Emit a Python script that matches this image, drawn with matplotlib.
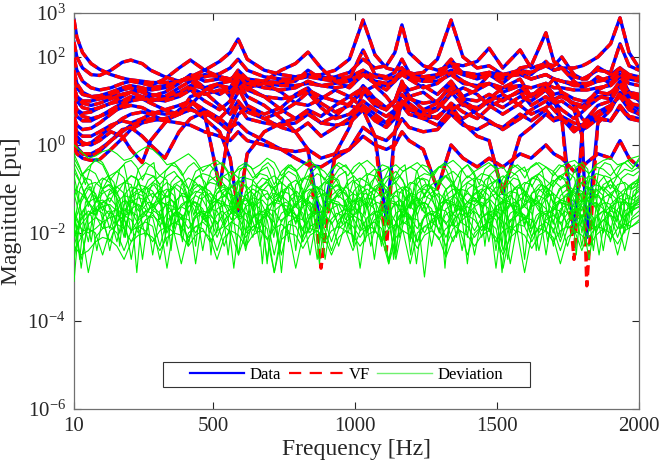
import numpy as np
import matplotlib
matplotlib.use('Agg')
import matplotlib.pyplot as plt
from matplotlib.lines import Line2D
from matplotlib.patches import Rectangle
from matplotlib.ticker import FixedLocator, LogFormatterMathtext, NullLocator

plt.rcParams['font.family'] = ['Liberation Serif', 'DejaVu Serif']
plt.rcParams['mathtext.fontset'] = 'custom'
plt.rcParams['mathtext.rm'] = 'Liberation Serif'
plt.rcParams['mathtext.it'] = 'Liberation Serif:italic'

# ---------------- data (log10 of magnitude) ----------------
freq = [10, 20, 40, 70, 100, 140, 180, 210, 250, 280,
        330, 380, 420, 470, 523, 560, 588, 620, 680, 740,
        790, 834, 880, 930, 980, 1028, 1070, 1110, 1140, 1165,
        1190, 1240, 1290, 1338, 1380, 1430, 1472, 1520, 1581, 1620,
        1672, 1700, 1728, 1771, 1800, 1816, 1855, 1900, 1933, 1965,
        2000]

c01 = [2.85, 2.45, 2.1, 1.85, 1.72, 1.6, 1.52, 1.48, 1.45, 1.42,
       1.42, 1.45, 1.5, 1.55, 1.62, 1.75, 1.95, 1.7, 1.55, 1.5,
       1.5, 1.58, 1.6, 1.7, 1.95, 2.84, 2.05, 1.75, 1.7, 1.75,
       1.6, 1.45, 1.45, 1.6, 1.4, 1.35, 1.4, 1.3, 1.35, 1.3,
       1.4, 1.3, 1.3, 1.25, 1.25, 1.25, 1.3, 1.35, 1.55, 1.4,
       1.35]
c02 = [2.34, 2.0, 1.75, 1.6, 1.58, 1.7, 1.88, 1.93, 1.85, 1.7,
       1.55, 1.45, 1.5, 1.6, 1.55, 1.5, 1.6, 1.45, 1.4, 1.45,
       1.5, 1.55, 1.5, 1.55, 1.65, 1.95, 1.75, 1.8, 2.1, 2.73,
       2.1, 1.8, 1.7, 1.8, 1.65, 1.6, 1.65, 1.55, 1.6, 1.5,
       1.6, 1.5, 1.45, 1.4, 1.4, 1.4, 1.45, 1.5, 1.7, 1.55,
       1.5]
c03 = [1.98, 1.7, 1.45, 1.3, 1.25, 1.3, 1.4, 1.45, 1.4, 1.35,
       1.5, 1.75, 1.93, 1.7, 1.55, 1.5, 1.55, 1.45, 1.4, 1.35,
       1.35, 1.4, 1.35, 1.4, 1.45, 1.65, 1.45, 1.4, 1.5, 1.7,
       1.6, 1.65, 1.95, 2.84, 2.0, 1.75, 1.8, 1.6, 1.65, 1.5,
       1.6, 1.5, 1.45, 1.35, 1.35, 1.35, 1.45, 1.55, 1.75, 1.6,
       1.55]
c04 = [1.52, 1.3, 1.15, 1.1, 1.12, 1.2, 1.3, 1.35, 1.3, 1.25,
       1.3, 1.45, 1.55, 1.7, 1.9, 2.1, 2.41, 1.95, 1.7, 1.6,
       1.55, 1.6, 1.55, 1.5, 1.55, 1.7, 1.55, 1.5, 1.55, 1.65,
       1.55, 1.5, 1.55, 1.7, 1.6, 1.55, 1.65, 1.6, 1.7, 1.65,
       1.8, 1.7, 1.75, 1.75, 1.8, 1.85, 2.0, 2.3, 2.89, 2.1,
       1.75]
c05 = [1.3, 1.1, 0.95, 0.9, 0.95, 1.05, 1.15, 1.2, 1.25, 1.3,
       1.35, 1.45, 1.55, 1.3, 1.15, 1.3, 1.6, 1.35, 1.45, 1.7,
       1.85, 2.11, 1.75, 1.45, 1.3, 1.6, 1.4, 1.25, 1.45, 1.75,
       1.5, 1.3, 1.4, 1.65, 1.45, 1.3, 1.6, 1.4, 1.75, 1.8,
       2.55, 1.9, 1.75, 1.45, 1.3, 1.35, 1.55, 1.4, 1.6, 1.5,
       1.45]
c06 = [0.98, 0.8, 0.72, 0.75, 0.85, 0.95, 1.1, 1.2, 1.25, 1.15,
       1.1, 1.2, 1.35, 1.3, 1.4, 1.45, 1.6, 1.4, 1.3, 1.25,
       1.3, 1.45, 1.35, 1.3, 1.35, 1.6, 1.4, 1.35, 1.45, 1.6,
       1.5, 1.45, 1.55, 1.85, 1.8, 1.9, 2.2, 1.75, 2.16, 1.75,
       1.85, 1.8, 2.0, 1.6, 1.5, 1.5, 1.77, 1.6, 1.75, 1.55,
       1.5]
c07 = [0.64, 0.45, 0.35, 0.38, 0.5, 0.7, 0.9, 1.0, 1.05, 0.95,
       0.8, 0.7, 0.9, 1.25, 1.4, 1.1, 1.3, 0.9, 0.7, 0.85,
       1.15, 1.3, 0.95, 0.75, 0.9, 1.35, 1.05, 0.85, 1.0, 1.45,
       1.1, 0.8, 0.95, 1.4, 1.0, 0.8, 1.05, 1.3, 1.5, 1.1,
       1.3, 1.5, 1.2, 0.9, 0.85, 0.95, 1.25, 1.4, 1.6, 1.2,
       1.0]
c08 = [0.41, 0.2, 0.05, 0.0, 0.1, 0.3, 0.2, -0.1, -0.4, 0.1,
       0.5, 0.8, 1.0, 0.8, 0.6, 0.85, 1.2, 1.3, 1.1, 0.8,
       0.6, 0.75, 0.5, 0.65, 0.95, 1.2, 1.35, 1.1, 0.85, 1.0,
       0.8, 0.65, 0.8, 1.15, 1.3, 1.15, 0.9, 0.7, 0.95, 1.15,
       1.25, 1.0, 0.8, 0.6, 0.75, 0.85, 1.05, 1.2, 1.35, 1.0,
       0.8]
c09 = [0.18, -0.05, -0.2, -0.25, -0.15, 0.1, 0.35, 0.4, 0.2, 0.0,
       -0.3, 0.3, 0.6, 0.75, 0.5, 0.3, 0.7, 0.85, 0.6, 0.4,
       0.3, 0.5, 0.2, 0.4, 0.6, 0.9, 0.7, 0.5, 0.75, 1.0,
       0.85, 0.6, 0.45, 0.8, 0.95, 0.7, 0.55, 0.35, 0.6, 0.8,
       1.0, 0.8, 0.6, 0.3, 0.45, 0.55, 0.75, 0.9, 1.1, 0.8,
       0.7]
c10 = [-0.05, -0.2, -0.3, -0.35, -0.33, -0.1, 0.15, 0.35, 0.5, 0.55,
       0.6, 0.7, 0.8, 0.7, 0.6, 0.4, 0.5, 0.3, 0.1, -0.1,
       -0.3, -0.45, -0.5, -0.3, -0.1, 0.4, 0.2, 0.1, 0.3, 0.6,
       0.4, 0.3, 0.35, 0.7, 0.45, 0.35, 0.5, 0.4, 0.7, 0.55,
       0.8, 0.6, 0.65, 0.5, 0.45, 0.45, 0.6, 0.55, 0.9, 0.65,
       0.6]
c11 = [1.7, 1.4, 1.2, 1.1, 1.05, 1.1, 1.15, 1.2, 1.1, 1.0,
       1.05, 1.15, 1.3, 1.15, 1.25, 1.2, 1.4, 1.1, 0.9, 0.6,
       0.3, -0.1, -1.9, -0.2, 0.4, 1.2, 0.9, 0.8, 1.0, 1.3,
       1.05, 0.95, 1.0, 1.3, 1.05, 1.0, 1.15, 1.0, 1.25, 1.1,
       1.35, 1.15, 1.2, 1.05, 1.0, 1.0, 1.2, 1.15, 1.45, 1.2,
       1.15]
c12 = [1.2, 1.0, 0.85, 0.8, 0.85, 0.95, 1.0, 1.1, 1.05, 1.0,
       1.1, 1.3, 1.45, 1.25, 1.35, 1.3, 1.5, 1.25, 1.1, 1.05,
       1.1, 1.25, 1.1, 1.0, 0.9, 0.8, 0.2, -1.7, 0.3, 1.0,
       0.8, 0.75, 0.85, 1.2, 0.9, 0.85, 1.0, 0.85, 1.1, 1.0,
       1.25, 1.05, 1.1, 0.95, 0.9, 0.95, 1.1, 1.05, 1.4, 1.15,
       1.1]
c13 = [0.85, 0.65, 0.55, 0.55, 0.65, 0.8, 0.95, 1.05, 1.1, 1.05,
       1.0, 1.1, 1.25, 1.0, 0.8, 1.0, 1.45, 1.3, 1.4, 1.2,
       0.95, 0.9, 1.05, 1.25, 1.1, 1.3, 0.95, 0.8, 1.0, 1.4,
       1.25, 1.35, 1.15, 1.45, 1.1, 1.25, 1.4, 1.2, 1.35, 1.1,
       1.4, 1.0, 0.6, -2.0, 0.3, 0.6, 0.9, 1.0, 1.35, 1.1,
       1.05]
c14 = [0.3, 0.1, 0.0, 0.05, 0.2, 0.4, 0.6, 0.7, 0.75, 0.7,
       0.55, 0.7, 1.1, 1.2, 0.9, 0.7, 1.0, 0.75, 0.6, 0.75,
       0.95, 1.2, 0.85, 0.6, 0.7, 1.0, 0.8, 0.65, 0.8, 1.15,
       0.95, 0.7, 0.6, 0.95, 0.75, 0.6, 0.85, 1.05, 1.2, 0.9,
       1.1, 0.95, 1.0, 0.8, 0.2, -2.1, 0.5, 0.8, 1.2, 0.95,
       0.9]
c15 = [0.5, 0.3, 0.2, 0.2, 0.3, 0.45, 0.55, 0.5, 0.6, 0.7,
       0.8, 0.9, 1.0, 0.7, -0.95, 0.5, 0.9, 0.6, 0.5, 0.45,
       0.5, 0.7, 0.5, 0.45, 0.5, 0.8, 0.6, 0.5, 0.65, 0.9,
       0.7, 0.6, 0.65, 0.9, 0.5, 0.2, 0.1, -1.1, 0.2, 0.4,
       0.7, 0.55, 0.6, 0.4, 0.35, 0.4, 0.6, 0.55, 0.85, 0.6,
       0.55]
c16 = [1.0, 0.8, 0.65, 0.6, 0.65, 0.75, 0.85, 0.9, 0.85, 0.75,
       0.7, 0.75, 0.85, 0.6, 0.3, -0.3, -1.5, -0.2, 0.3, 0.5,
       0.6, 0.8, 0.65, 0.9, 1.1, 0.85, 0.55, 0.4, 0.6, 0.9,
       1.1, 1.2, 0.95, 0.75, 0.6, 0.8, 1.0, 1.15, 0.9, 0.7,
       0.85, 1.0, 1.15, 0.9, 0.6, 0.5, 0.65, 0.85, 1.15, 0.9,
       0.7]
c17 = [0.1, -0.1, -0.2, -0.2, -0.1, 0.1, 0.3, 0.45, 0.55, 0.6,
       0.55, 0.5, 0.45, 0.3, 0.2, 0.1, 0.3, 0.1, 0.0, -0.1,
       -0.15, -0.1, -0.3, -0.2, -0.1, 0.2, 0.0, -0.1, 0.0, 0.3,
       0.1, -0.1, -1.0, 0.0, -0.3, -0.5, -0.3, -0.5, -0.2, -0.3,
       0.0, -0.2, -0.3, -0.6, -0.5, -0.4, -0.2, -0.3, 0.1, -0.3,
       -0.5]
c18 = [1.3, 1.1, 1.0, 1.0, 1.05, 1.15, 1.25, 1.3, 1.2, 1.1,
       1.2, 1.4, 1.6, 1.45, 1.5, 1.45, 1.7, 1.5, 1.45, 1.4,
       1.45, 1.7, 1.5, 1.45, 1.5, 2.16, 1.6, 1.55, 1.65, 1.95,
       1.65, 1.55, 1.6, 1.95, 1.6, 1.5, 1.6, 1.5, 1.7, 1.6,
       1.9, 1.7, 1.75, 1.55, 1.5, 1.55, 1.7, 1.65, 2.3, 1.8,
       1.7]

data_curves = [c01, c02, c03, c04, c05, c06, c07, c08, c09,
               c10, c11, c12, c13, c14, c15, c16, c17, c18]

# VF fit differs from data only at the deep anti-resonances
vf_dip_curve = [10, 11, 12, 13]
vf_dip_freq = [880, 1110, 1771, 1816]
vf_dip_value = [-2.8, -2.4, -2.6, -3.2]

# deviation curves (log10), sampled on even grids
dev_freq = np.linspace(10, 2000, 80)
dev_freq_fine = np.linspace(10, 2000, 100)
g01 = [0.0, -0.15, -0.3, -0.25, -0.15, -0.1, -0.2, -0.35, -0.3, -0.15,
       -0.05, -0.1, -0.25, -0.45, -0.4, -0.3, -0.2, -0.35, -0.6, -0.45,
       -0.35, -0.5, -0.75, -0.5, -0.4, -0.55, -0.45, -0.3, -0.4, -0.7,
       -0.5, -0.6, -0.45, -0.35, -0.5, -0.8, -0.55, -0.4, -0.5, -0.65,
       -0.45, -0.35, -0.5, -0.9, -0.55, -0.45, -0.6, -0.5, -0.4, -0.55,
       -0.7, -0.5, -0.45, -0.35, -0.5, -0.75, -0.6, -0.5, -0.4, -0.55,
       -0.9, -0.55, -0.45, -0.6, -0.5, -0.4, -0.5, -0.7, -0.5, -0.4,
       -0.35, -0.5, -0.65, -0.45, -0.35, -0.3, -0.45, -0.4, -0.3, -0.25]
g02 = [-0.4, -0.7, -0.5, -0.35, -0.45, -0.8, -0.6, -0.45, -1.2, -0.55,
       -0.4, -0.5, -0.7, -0.55, -0.4, -0.6, -1.0, -0.6, -0.5, -0.45,
       -0.65, -1.4, -0.7, -0.55, -0.5, -0.75, -0.6, -0.5, -0.9, -0.6,
       -0.45, -0.55, -1.1, -0.65, -0.5, -0.6, -0.8, -0.55, -0.45, -0.7,
       -1.5, -0.7, -0.55, -0.6, -0.5, -0.85, -0.6, -0.5, -0.6, -1.2,
       -0.65, -0.5, -0.55, -0.9, -0.6, -0.45, -0.7, -1.6, -0.7, -0.55,
       -0.5, -0.75, -0.6, -0.5, -0.95, -0.65, -0.5, -0.6, -0.8, -0.55,
       -0.45, -1.3, -0.65, -0.5, -0.55, -0.7, -0.5, -0.4, -0.55, -0.35]
g03 = [-1.2, -0.7, -0.55, -0.65, -1.0, -0.7, -0.6, -0.75, -1.6, -0.8,
       -0.65, -0.7, -0.9, -0.7, -0.6, -0.8, -1.3, -0.75, -0.65, -0.7,
       -0.85, -0.7, -0.6, -0.75, -2.0, -0.8, -0.65, -0.7, -1.0, -0.75,
       -0.6, -0.7, -1.2, -0.8, -0.65, -0.75, -0.95, -0.7, -0.6, -1.7,
       -0.8, -0.65, -0.7, -1.0, -0.75, -0.6, -0.8, -1.4, -0.75, -0.65,
       -0.7, -0.9, -0.7, -0.6, -0.75, -2.1, -0.8, -0.65, -0.7, -1.1,
       -0.75, -0.6, -0.7, -1.3, -0.75, -0.65, -0.8, -0.95, -0.7, -0.6,
       -0.75, -1.8, -0.8, -0.65, -0.7, -1.0, -0.7, -0.55, -0.6, -0.5]
g04 = [-0.5, -0.9, -1.4, -0.9, -0.75, -0.85, -1.1, -0.85, -0.7, -0.8,
       -1.3, -0.85, -0.7, -0.8, -1.9, -0.9, -0.75, -0.85, -1.05, -0.8,
       -0.7, -0.9, -1.5, -0.85, -0.75, -0.8, -1.0, -0.8, -0.7, -0.85,
       -2.2, -0.9, -0.75, -0.8, -1.1, -0.85, -0.7, -0.8, -1.4, -0.85,
       -0.75, -0.85, -1.05, -0.8, -0.7, -0.9, -1.8, -0.9, -0.75, -0.8,
       -1.2, -0.85, -0.7, -0.85, -1.5, -0.85, -0.75, -0.8, -1.0, -0.8,
       -0.7, -0.85, -2.0, -0.9, -0.75, -0.8, -1.1, -0.85, -0.7, -0.8,
       -1.3, -0.85, -0.7, -0.8, -1.05, -0.8, -0.7, -0.9, -1.6, -0.7]
g05 = [-3.1, -1.2, -0.9, -0.85, -1.0, -1.3, -0.95, -0.85, -0.9, -1.7,
       -1.0, -0.85, -0.95, -1.2, -0.9, -0.8, -1.0, -2.3, -1.0, -0.85,
       -0.9, -1.15, -0.95, -0.8, -0.95, -1.5, -0.95, -0.85, -1.0, -1.25,
       -0.9, -0.8, -1.0, -1.9, -1.0, -0.85, -0.9, -1.2, -0.95, -0.8,
       -0.95, -1.4, -0.95, -0.85, -1.0, -2.5, -1.05, -0.85, -0.9, -1.15,
       -0.9, -0.8, -1.0, -1.6, -1.0, -0.85, -0.95, -1.2, -0.9, -0.8,
       -1.0, -2.0, -1.0, -0.85, -0.9, -1.3, -0.95, -0.8, -0.95, -1.5,
       -0.95, -0.85, -1.0, -1.2, -0.9, -0.8, -1.0, -1.8, -0.9, -0.75]
g06 = [-0.3, -0.6, -0.9, -1.3, -1.0, -0.9, -1.05, -1.6, -1.05, -0.9,
       -0.95, -1.2, -1.0, -0.85, -1.0, -2.1, -1.05, -0.9, -0.95, -1.3,
       -1.0, -0.9, -1.05, -1.7, -1.05, -0.9, -1.0, -1.25, -0.95, -0.85,
       -1.0, -2.4, -1.1, -0.9, -0.95, -1.3, -1.0, -0.9, -1.05, -1.5,
       -1.0, -0.9, -1.0, -1.2, -0.95, -0.85, -1.05, -2.2, -1.05, -0.9,
       -0.95, -1.35, -1.0, -0.9, -1.05, -1.6, -1.0, -0.9, -1.0, -1.25,
       -0.95, -0.85, -1.05, -2.6, -1.1, -0.9, -0.95, -1.3, -1.0, -0.9,
       -1.05, -1.5, -1.0, -0.9, -1.0, -1.2, -0.9, -0.85, -1.0, -0.8]
g07 = [-1.8, -1.3, -1.0, -1.1, -1.5, -1.05, -0.95, -1.1, -2.0, -1.1,
       -0.95, -1.05, -1.35, -1.05, -0.95, -1.1, -1.6, -1.1, -0.95, -1.05,
       -1.3, -1.05, -0.95, -1.1, -2.3, -1.15, -1.0, -1.05, -1.4, -1.05,
       -0.95, -1.1, -1.7, -1.1, -0.95, -1.05, -1.3, -1.05, -0.95, -1.1,
       -1.9, -1.15, -1.0, -1.05, -1.35, -1.05, -0.95, -1.1, -1.6, -1.1,
       -0.95, -1.05, -2.5, -1.15, -1.0, -1.05, -1.3, -1.05, -0.95, -1.1,
       -1.55, -1.1, -0.95, -1.05, -1.4, -1.05, -0.95, -1.1, -2.1, -1.1,
       -1.0, -1.05, -1.3, -1.05, -0.95, -1.1, -1.7, -1.05, -0.9, -0.85]
g08 = [-0.9, -1.5, -2.2, -1.3, -1.1, -1.0, -1.2, -1.7, -1.15, -1.0,
       -1.1, -1.4, -1.1, -1.0, -1.15, -2.0, -1.2, -1.05, -1.1, -1.35,
       -1.1, -1.0, -1.15, -1.6, -1.15, -1.0, -1.1, -2.7, -1.2, -1.05,
       -1.1, -1.4, -1.1, -1.0, -1.15, -1.8, -1.15, -1.0, -1.1, -1.3,
       -1.1, -1.0, -1.15, -2.2, -1.2, -1.05, -1.1, -1.45, -1.1, -1.0,
       -1.15, -1.7, -1.15, -1.0, -1.1, -1.3, -1.1, -1.0, -1.15, -2.4,
       -1.2, -1.05, -1.1, -1.4, -1.1, -1.0, -1.15, -1.8, -1.15, -1.0,
       -1.1, -1.3, -1.1, -1.0, -1.15, -2.0, -1.15, -1.0, -1.0, -0.9]
g09 = [-2.6, -1.6, -1.3, -1.2, -1.35, -1.9, -1.3, -1.15, -1.2, -1.5,
       -1.2, -1.1, -1.25, -2.3, -1.3, -1.15, -1.2, -1.55, -1.2, -1.1,
       -1.25, -1.8, -1.25, -1.1, -1.2, -1.45, -1.2, -1.1, -1.25, -2.9,
       -1.3, -1.15, -1.2, -1.5, -1.2, -1.1, -1.25, -1.9, -1.25, -1.1,
       -1.2, -1.45, -1.2, -1.1, -1.25, -2.4, -1.3, -1.15, -1.2, -1.55,
       -1.2, -1.1, -1.25, -1.8, -1.25, -1.1, -1.2, -1.4, -1.2, -1.1,
       -1.25, -2.2, -1.3, -1.15, -1.2, -1.5, -1.2, -1.1, -1.25, -1.9,
       -1.25, -1.1, -1.2, -1.45, -1.2, -1.1, -1.25, -2.0, -1.2, -1.0]
g10 = [-1.0, -1.1, -1.3, -1.6, -1.3, -1.2, -1.4, -2.1, -1.3, -1.2,
       -1.25, -1.5, -1.25, -1.15, -1.3, -1.9, -1.3, -1.15, -1.25, -1.55,
       -1.25, -1.15, -1.3, -2.5, -1.35, -1.2, -1.25, -1.6, -1.25, -1.15,
       -1.3, -1.8, -1.3, -1.15, -1.25, -1.5, -1.25, -1.15, -1.3, -2.2,
       -1.3, -1.2, -1.25, -1.6, -1.25, -1.15, -1.3, -1.9, -1.3, -1.15,
       -1.25, -1.5, -1.25, -1.15, -1.3, -2.7, -1.35, -1.2, -1.25, -1.6,
       -1.25, -1.15, -1.3, -1.85, -1.3, -1.15, -1.25, -1.5, -1.25, -1.15,
       -1.3, -2.3, -1.3, -1.15, -1.25, -1.5, -1.2, -1.1, -1.2, -1.05]
g11 = [-2.0, -1.8, -1.6, -1.5, -1.4, -1.6, -2.2, -1.5, -1.3, -1.35,
       -1.6, -1.35, -1.25, -1.4, -2.0, -1.4, -1.25, -1.3, -1.7, -1.35,
       -1.25, -1.3, -1.55, -1.3, -1.2, -1.35, -2.3, -1.4, -1.25, -1.3,
       -1.6, -1.3, -1.2, -1.35, -1.9, -1.35, -1.25, -1.3, -1.5, -1.3,
       -1.2, -1.35, -2.6, -1.4, -1.25, -1.3, -1.65, -1.3, -1.2, -1.35,
       -1.9, -1.35, -1.25, -1.3, -1.5, -1.3, -1.2, -1.35, -2.2, -1.4,
       -1.25, -1.3, -1.6, -1.3, -1.2, -1.35, -1.95, -1.35, -1.25, -1.3,
       -1.5, -1.3, -1.2, -1.35, -2.4, -1.35, -1.2, -1.25, -1.45, -1.2]
g12 = [-1.4, -2.8, -1.6, -1.3, -1.25, -1.4, -1.8, -1.35, -1.25, -1.4,
       -2.1, -1.4, -1.3, -1.35, -1.6, -1.35, -1.25, -1.4, -2.4, -1.45,
       -1.3, -1.35, -1.7, -1.35, -1.25, -1.4, -1.9, -1.4, -1.3, -1.35,
       -1.55, -1.35, -1.25, -1.4, -2.6, -1.45, -1.3, -1.35, -1.7, -1.35,
       -1.25, -1.4, -2.0, -1.4, -1.3, -1.35, -1.6, -1.35, -1.25, -1.4,
       -2.3, -1.45, -1.3, -1.35, -1.75, -1.35, -1.25, -1.4, -1.95, -1.4,
       -1.3, -1.35, -1.55, -1.35, -1.25, -1.4, -2.5, -1.45, -1.3, -1.35,
       -1.7, -1.35, -1.25, -1.4, -2.0, -1.4, -1.3, -1.3, -1.5, -1.25]
g13 = [-0.6, -0.9, -1.3, -1.5, -1.4, -1.35, -1.5, -1.9, -1.45, -1.35,
       -1.45, -2.5, -1.5, -1.35, -1.4, -1.7, -1.4, -1.3, -1.45, -2.0,
       -1.45, -1.35, -1.4, -1.65, -1.4, -1.3, -1.45, -2.6, -1.5, -1.35,
       -1.4, -1.75, -1.4, -1.3, -1.45, -2.1, -1.45, -1.35, -1.4, -1.6,
       -1.4, -1.3, -1.45, -2.3, -1.5, -1.35, -1.4, -1.7, -1.4, -1.3,
       -1.45, -1.95, -1.45, -1.35, -1.4, -1.6, -1.4, -1.3, -1.45, -2.8,
       -1.5, -1.35, -1.4, -1.7, -1.4, -1.3, -1.45, -2.0, -1.45, -1.35,
       -1.4, -1.65, -1.4, -1.3, -1.45, -2.2, -1.45, -1.3, -1.35, -1.2]
g14 = [-1.7, -2.1, -1.6, -1.45, -1.55, -2.4, -1.6, -1.45, -1.5, -1.8,
       -1.5, -1.4, -1.55, -2.0, -1.55, -1.4, -1.5, -2.7, -1.6, -1.45,
       -1.5, -1.85, -1.5, -1.4, -1.55, -2.1, -1.55, -1.45, -1.5, -1.75,
       -1.5, -1.4, -1.55, -2.5, -1.6, -1.45, -1.5, -1.8, -1.5, -1.4,
       -1.55, -2.0, -1.55, -1.45, -1.5, -1.75, -1.5, -1.4, -1.55, -3.0,
       -1.6, -1.45, -1.5, -1.85, -1.5, -1.4, -1.55, -2.1, -1.55, -1.45,
       -1.5, -1.75, -1.5, -1.4, -1.55, -2.4, -1.6, -1.45, -1.5, -1.8,
       -1.5, -1.4, -1.55, -2.0, -1.55, -1.4, -1.5, -1.7, -1.4, -1.3]
g15 = [-2.3, -1.7, -1.5, -1.6, -1.9, -1.55, -1.45, -1.6, -2.6, -1.65,
       -1.5, -1.55, -1.85, -1.55, -1.45, -1.6, -2.2, -1.6, -1.5, -1.55,
       -1.8, -1.55, -1.45, -1.6, -2.4, -1.65, -1.5, -1.55, -1.9, -1.55,
       -1.45, -1.6, -2.1, -1.6, -1.5, -1.55, -1.8, -1.55, -1.45, -1.6,
       -2.8, -1.65, -1.5, -1.55, -1.9, -1.55, -1.45, -1.6, -2.2, -1.6,
       -1.5, -1.55, -1.8, -1.55, -1.45, -1.6, -2.5, -1.65, -1.5, -1.55,
       -1.9, -1.55, -1.45, -1.6, -2.1, -1.6, -1.5, -1.55, -1.8, -1.55,
       -1.45, -1.6, -2.6, -1.6, -1.5, -1.55, -1.9, -1.5, -1.4, -1.35]
g16 = [-1.6, -1.9, -2.0, -1.9, -1.75, -1.65, -1.6, -1.7, -1.95, -1.7,
       -1.6, -1.65, -2.3, -1.7, -1.6, -1.65, -1.9, -1.65, -1.55, -1.65,
       -2.1, -1.7, -1.55, -1.65, -1.95, -1.65, -1.55, -1.7, -2.5, -1.7,
       -1.6, -1.65, -1.9, -1.65, -1.55, -1.7, -2.2, -1.7, -1.55, -1.65,
       -1.95, -1.65, -1.55, -1.7, -2.7, -1.75, -1.6, -1.65, -1.9, -1.65,
       -1.55, -1.7, -2.1, -1.7, -1.55, -1.65, -1.95, -1.65, -1.55, -1.7,
       -2.4, -1.7, -1.6, -1.65, -1.9, -1.65, -1.55, -1.7, -2.2, -1.7,
       -1.55, -1.65, -1.95, -1.65, -1.5, -1.6, -2.1, -1.6, -1.5, -1.4]
g17 = [-1.9, -2.6, -1.8, -1.65, -1.75, -2.2, -1.75, -1.6, -1.7, -2.0,
       -1.7, -1.6, -1.75, -2.8, -1.8, -1.65, -1.7, -2.0, -1.7, -1.6,
       -1.75, -2.3, -1.75, -1.6, -1.7, -1.95, -1.7, -1.6, -1.75, -2.5,
       -1.75, -1.65, -1.7, -2.0, -1.7, -1.6, -1.75, -2.3, -1.75, -1.6,
       -1.7, -1.95, -1.7, -1.6, -1.75, -2.6, -1.8, -1.65, -1.7, -2.0,
       -1.7, -1.6, -1.75, -2.2, -1.75, -1.6, -1.7, -1.95, -1.7, -1.6,
       -1.75, -2.7, -1.8, -1.65, -1.7, -2.0, -1.7, -1.6, -1.75, -2.3,
       -1.75, -1.6, -1.7, -1.95, -1.7, -1.6, -1.7, -2.4, -1.65, -1.5]
g18 = [-2.4, -2.1, -1.9, -2.0, -2.5, -1.95, -1.8, -1.9, -2.2, -1.85,
       -1.75, -1.85, -2.6, -1.9, -1.75, -1.85, -2.1, -1.85, -1.75, -1.9,
       -2.4, -1.9, -1.75, -1.85, -2.1, -1.85, -1.75, -1.9, -2.9, -1.95,
       -1.8, -1.85, -2.2, -1.85, -1.75, -1.9, -2.4, -1.9, -1.75, -1.85,
       -2.1, -1.85, -1.75, -1.9, -2.6, -1.9, -1.75, -1.85, -2.2, -1.85,
       -1.75, -1.9, -2.3, -1.9, -1.75, -1.85, -2.1, -1.85, -1.75, -1.9,
       -2.8, -1.95, -1.8, -1.85, -2.2, -1.85, -1.75, -1.9, -2.4, -1.9,
       -1.75, -1.85, -2.1, -1.85, -1.7, -1.85, -2.5, -1.85, -1.7, -1.6]
g19 = [-1.5, -1.9, -2.9, -2.1, -1.9, -1.85, -2.0, -2.4, -1.95, -1.85,
       -1.95, -2.2, -1.95, -1.85, -2.0, -2.7, -2.0, -1.85, -1.9, -2.2,
       -1.95, -1.85, -2.0, -2.5, -2.0, -1.85, -1.9, -2.15, -1.9, -1.8,
       -1.95, -2.8, -2.05, -1.9, -1.95, -2.2, -1.95, -1.85, -1.95, -2.4,
       -1.95, -1.85, -1.9, -2.2, -1.9, -1.8, -1.95, -2.7, -2.0, -1.85,
       -1.9, -2.15, -1.9, -1.8, -1.95, -2.5, -2.0, -1.85, -1.9, -2.2,
       -1.95, -1.85, -2.0, -2.9, -2.05, -1.9, -1.95, -2.2, -1.95, -1.85,
       -1.95, -2.4, -1.95, -1.85, -1.9, -2.15, -1.9, -1.8, -1.85, -1.7]
g20 = [-2.3, -2.5, -2.4, -2.2, -2.1, -2.15, -2.3, -2.6, -2.2, -2.05,
       -2.0, -2.1, -2.4, -2.1, -2.0, -2.05, -2.3, -2.05, -1.95, -2.1,
       -2.6, -2.1, -1.95, -2.05, -2.3, -2.05, -1.95, -2.1, -2.9, -2.15,
       -2.0, -2.05, -2.35, -2.05, -1.95, -2.1, -2.5, -2.1, -1.95, -2.05,
       -2.3, -2.05, -1.95, -2.1, -2.7, -2.1, -1.95, -2.05, -2.35, -2.05,
       -1.95, -2.1, -2.55, -2.1, -1.95, -2.05, -2.3, -2.05, -1.95, -2.1,
       -2.5, -2.1, -1.95, -2.05, -2.35, -2.05, -1.95, -2.1, -2.7, -2.1,
       -1.95, -2.05, -2.3, -2.05, -1.9, -2.0, -2.25, -1.95, -1.85, -1.75]

h01 = [-0.2, -0.5, -0.9, -0.45, -0.3, -0.4, -0.65, -1.1, -0.55, -0.4,
       -0.35, -0.5, -0.8, -0.5, -0.4, -1.3, -0.6, -0.45, -0.5, -0.7,
       -0.5, -0.4, -0.55, -1.0, -0.6, -0.45, -0.4, -0.6, -1.5, -0.6,
       -0.45, -0.5, -0.75, -0.5, -0.4, -0.55, -1.2, -0.55, -0.45, -0.6,
       -0.85, -0.55, -0.45, -0.5, -1.6, -0.6, -0.45, -0.55, -0.7, -0.5,
       -0.4, -0.55, -1.0, -0.6, -0.45, -0.5, -0.8, -0.55, -0.45, -1.4,
       -0.6, -0.45, -0.5, -0.7, -0.5, -0.4, -0.55, -1.1, -0.55, -0.45,
       -0.6, -0.9, -0.55, -0.45, -0.5, -1.7, -0.6, -0.45, -0.55, -0.75,
       -0.5, -0.4, -0.55, -1.2, -0.6, -0.45, -0.5, -0.8, -0.5, -0.4,
       -0.55, -1.3, -0.55, -0.4, -0.45, -0.7, -0.45, -0.35, -0.5, -0.3]
h02 = [-1.9, -1.0, -0.75, -0.8, -1.3, -0.8, -0.7, -0.85, -1.7, -0.85,
       -0.7, -0.75, -1.1, -0.8, -0.7, -0.9, -2.0, -0.85, -0.7, -0.8,
       -1.2, -0.8, -0.7, -0.85, -1.5, -0.85, -0.7, -0.8, -1.0, -0.75,
       -0.7, -1.8, -0.9, -0.75, -0.8, -1.2, -0.8, -0.7, -0.85, -1.4,
       -0.8, -0.7, -0.8, -2.2, -0.9, -0.75, -0.8, -1.1, -0.8, -0.7,
       -0.85, -1.6, -0.85, -0.7, -0.8, -1.25, -0.8, -0.7, -0.9, -2.1,
       -0.9, -0.75, -0.8, -1.1, -0.8, -0.7, -0.85, -1.5, -0.85, -0.7,
       -0.8, -1.3, -0.8, -0.7, -0.85, -2.3, -0.9, -0.75, -0.8, -1.15,
       -0.8, -0.7, -0.85, -1.6, -0.85, -0.7, -0.8, -1.2, -0.8, -0.7,
       -0.85, -1.9, -0.85, -0.7, -0.75, -1.1, -0.75, -0.65, -0.7, -0.6]
h03 = [-0.7, -1.3, -1.0, -0.95, -1.6, -1.0, -0.9, -1.05, -2.3, -1.1,
       -0.95, -1.0, -1.4, -1.0, -0.9, -1.1, -1.9, -1.05, -0.9, -1.0,
       -1.3, -1.0, -0.9, -1.05, -2.5, -1.1, -0.95, -1.0, -1.45, -1.0,
       -0.9, -1.05, -1.8, -1.05, -0.9, -1.0, -1.3, -1.0, -0.9, -1.1,
       -2.2, -1.1, -0.95, -1.0, -1.5, -1.0, -0.9, -1.05, -1.9, -1.05,
       -0.9, -1.0, -1.35, -1.0, -0.9, -1.1, -2.6, -1.1, -0.95, -1.0,
       -1.5, -1.0, -0.9, -1.05, -1.8, -1.05, -0.9, -1.0, -1.3, -1.0,
       -0.9, -1.1, -2.3, -1.1, -0.95, -1.0, -1.45, -1.0, -0.9, -1.05,
       -1.9, -1.05, -0.9, -1.0, -1.35, -1.0, -0.9, -1.1, -2.5, -1.1,
       -0.95, -1.0, -1.5, -1.0, -0.9, -1.05, -1.7, -0.95, -0.85, -0.8]
h04 = [-1.5, -2.6, -1.3, -1.1, -1.2, -1.7, -1.15, -1.05, -1.2, -2.1,
       -1.2, -1.1, -1.15, -1.5, -1.15, -1.05, -1.2, -2.4, -1.25, -1.1,
       -1.15, -1.6, -1.15, -1.05, -1.2, -2.0, -1.2, -1.1, -1.15, -1.45,
       -1.15, -1.05, -1.2, -2.7, -1.25, -1.1, -1.15, -1.6, -1.15, -1.05,
       -1.2, -2.0, -1.2, -1.1, -1.15, -1.5, -1.15, -1.05, -1.2, -2.3,
       -1.25, -1.1, -1.15, -1.7, -1.15, -1.05, -1.2, -2.1, -1.2, -1.1,
       -1.15, -1.5, -1.15, -1.05, -1.2, -2.8, -1.25, -1.1, -1.15, -1.6,
       -1.15, -1.05, -1.2, -2.0, -1.2, -1.1, -1.15, -1.5, -1.15, -1.05,
       -1.2, -2.4, -1.25, -1.1, -1.15, -1.7, -1.15, -1.05, -1.2, -2.0,
       -1.2, -1.1, -1.15, -1.5, -1.1, -1.0, -1.1, -1.9, -1.05, -0.95]
h05 = [-1.1, -1.6, -1.4, -2.2, -1.4, -1.3, -1.35, -1.8, -1.35, -1.25,
       -1.4, -2.9, -1.45, -1.3, -1.35, -1.7, -1.35, -1.25, -1.4, -2.2,
       -1.4, -1.3, -1.35, -1.75, -1.35, -1.25, -1.4, -2.5, -1.45, -1.3,
       -1.35, -1.8, -1.35, -1.25, -1.4, -2.1, -1.4, -1.3, -1.35, -1.65,
       -1.35, -1.25, -1.4, -2.7, -1.45, -1.3, -1.35, -1.8, -1.35, -1.25,
       -1.4, -2.2, -1.4, -1.3, -1.35, -1.7, -1.35, -1.25, -1.4, -2.5,
       -1.45, -1.3, -1.35, -1.8, -1.35, -1.25, -1.4, -2.1, -1.4, -1.3,
       -1.35, -1.65, -1.35, -1.25, -1.4, -2.9, -1.45, -1.3, -1.35, -1.8,
       -1.35, -1.25, -1.4, -2.2, -1.4, -1.3, -1.35, -1.7, -1.35, -1.25,
       -1.4, -2.4, -1.4, -1.3, -1.35, -1.75, -1.3, -1.2, -1.25, -1.15]
h06 = [-2.1, -1.7, -1.55, -1.6, -2.4, -1.65, -1.5, -1.6, -2.0, -1.6,
       -1.5, -1.6, -2.6, -1.65, -1.5, -1.6, -1.95, -1.6, -1.5, -1.6,
       -2.3, -1.65, -1.5, -1.6, -1.9, -1.6, -1.5, -1.65, -2.8, -1.7,
       -1.55, -1.6, -2.0, -1.6, -1.5, -1.65, -2.4, -1.65, -1.5, -1.6,
       -1.95, -1.6, -1.5, -1.6, -2.6, -1.7, -1.55, -1.6, -2.0, -1.6,
       -1.5, -1.65, -2.3, -1.65, -1.5, -1.6, -1.9, -1.6, -1.5, -1.65,
       -2.7, -1.7, -1.55, -1.6, -2.0, -1.6, -1.5, -1.65, -2.4, -1.65,
       -1.5, -1.6, -1.95, -1.6, -1.5, -1.6, -2.6, -1.7, -1.55, -1.6,
       -2.0, -1.6, -1.5, -1.65, -2.3, -1.65, -1.5, -1.6, -1.9, -1.6,
       -1.5, -1.65, -2.5, -1.65, -1.5, -1.55, -1.9, -1.55, -1.45, -1.4]

dev_curves = [g01, g02, g03, g04, g05, g06, g07, g08, g09, g10,
              g11, g12, g13, g14, g15, g16, g17, g18, g19, g20]
dev_curves_fine = [h01, h02, h03, h04, h05, h06]

x_ticks = [10, 500, 1000, 1500, 2000]
y_ticks = [1e-6, 1e-4, 1e-2, 1e0, 1e2, 1e3]
legend_labels = ['Data', 'VF', 'Deviation']

for c in data_curves:
    assert len(c) == len(freq)
for g in dev_curves:
    assert len(g) == len(dev_freq)
for g in dev_curves_fine:
    assert len(g) == len(dev_freq_fine)

# ---------------- plot ----------------
fig = plt.figure(figsize=(6.62, 4.74), dpi=100)
ax = fig.add_axes([0.1118, 0.1371, 0.8535, 0.8355])

blue = '#0000ff'
red = '#ff0000'
green = '#00f000'
vf_dash = (0, (3.0, 1.5))

for c in data_curves:
    ax.plot(freq, 10 ** np.array(c), color=blue, lw=2.4, zorder=2)

for i, c in enumerate(data_curves):
    vals = np.array(c, dtype=float)
    for ci, fq, v in zip(vf_dip_curve, vf_dip_freq, vf_dip_value):
        if ci == i:
            vals[freq.index(fq)] = v
    ax.plot(freq, 10 ** vals, color=red, lw=2.4, ls=vf_dash, zorder=3)

for g in dev_curves:
    ax.plot(dev_freq, 10 ** np.array(g), color=green, lw=0.8, zorder=4)
for g in dev_curves_fine:
    ax.plot(dev_freq_fine, 10 ** np.array(g), color=green, lw=0.8, zorder=4)

ax.set_yscale('log')
ax.set_xlim(10, 2000)
ax.set_ylim(1e-6, 1e3)
ax.xaxis.set_major_locator(FixedLocator(x_ticks))
ax.yaxis.set_major_locator(FixedLocator(y_ticks))
ax.yaxis.set_major_formatter(LogFormatterMathtext())
ax.yaxis.set_minor_locator(NullLocator())
ax.tick_params(direction='in', top=True, right=True, length=5, width=0.8,
               labelsize=15, colors='#262626', pad=6)
for s in ax.spines.values():
    s.set_color('#707070')
    s.set_linewidth(0.9)

ax.set_xlabel('Frequency [Hz]', fontsize=17, color='#262626', labelpad=2)
ax.set_ylabel('Magnitude [pu]', fontsize=17, color='#262626', labelpad=4)

# legend: MATLAB-style box with wide side padding
box = Rectangle((0.1575, 0.0556), 0.6495, 0.0631, transform=ax.transAxes,
                facecolor='white', edgecolor='#333333', lw=0.8, zorder=5)
ax.add_patch(box)
handles = [Line2D([], [], color=blue, lw=1.6),
           Line2D([], [], color=red, lw=1.6, ls=(0, (5.5, 3.8))),
           Line2D([], [], color='#70f070', lw=1.0)]
leg = ax.legend(handles, legend_labels, loc='center', ncol=3,
                bbox_to_anchor=(0.482, 0.087), fontsize=12, frameon=False,
                handlelength=3.25, handletextpad=0.35, columnspacing=0.45,
                borderpad=0.0, borderaxespad=0)
leg.set_zorder(6)

fig.savefig('out.png', dpi=100)
